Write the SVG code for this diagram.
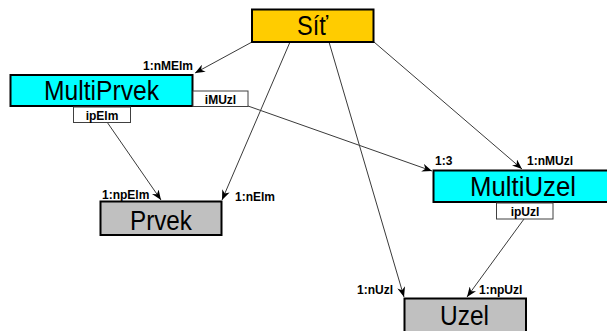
<svg xmlns="http://www.w3.org/2000/svg" width="607" height="331" viewBox="0 0 607 331">
  <style>
    .box { stroke: #000; stroke-width: 2; }
    .tag { fill: #fff; stroke: #404040; stroke-width: 1; }
    .title { font-family: "Liberation Sans", Arial, sans-serif; font-size: 27px; fill: #000; }
    .small { font-family: "Liberation Sans", Arial, sans-serif; font-size: 12px; font-weight: bold; fill: #000; }
    .mid { text-anchor: middle; }
    .end { text-anchor: end; }
    .link { stroke: #3a3a3a; stroke-width: 1; fill: none; marker-end: url(#arrow); }
  </style>
  <defs>
    <marker id="arrow" viewBox="0 0 10 8" refX="10" refY="4" markerWidth="10" markerHeight="8" markerUnits="userSpaceOnUse" orient="auto">
      <path d="M0,0 L10,4 L0,8 L3,4 z" fill="#000"/>
    </marker>
  </defs>
  <rect width="607" height="331" fill="#fff"/>

  <g id="connectors">
    <line class="link" x1="252" y1="42" x2="195" y2="73"/>
    <line class="link" x1="290" y1="42" x2="222" y2="200"/>
    <line class="link" x1="329" y1="42" x2="404" y2="297"/>
    <line class="link" x1="374" y1="42" x2="522" y2="169"/>
    <line class="link" x1="248" y1="106" x2="432" y2="171"/>
    <line class="link" x1="107" y1="122" x2="161" y2="200"/>
    <line class="link" x1="524" y1="219" x2="467" y2="297"/>
  </g>

  <g id="sit">
    <rect class="box" x="252" y="9.5" width="121.5" height="32.5" fill="#FFCC00"/>
    <text class="title" x="297" y="35" textLength="31" lengthAdjust="spacingAndGlyphs">Síť</text>
  </g>

  <g id="multiprvek">
    <rect class="box" x="10.5" y="75" width="182" height="31" fill="#00FFFF"/>
    <text class="title" x="44" y="100" textLength="115" lengthAdjust="spacingAndGlyphs">MultiPrvek</text>
    <text class="small end" x="193" y="70">1:nMElm</text>
    <rect class="tag" x="193" y="91" width="55" height="15.5"/>
    <text class="small mid" x="220.5" y="103.5">iMUzl</text>
    <rect class="tag" x="73.5" y="107" width="57" height="15.5"/>
    <text class="small mid" x="102" y="119.5">ipElm</text>
  </g>

  <g id="prvek">
    <rect class="box" x="100.5" y="201.5" width="121" height="33.5" fill="#C0C0C0"/>
    <text class="title" x="130" y="230" textLength="62" lengthAdjust="spacingAndGlyphs">Prvek</text>
    <text class="small" x="102" y="199">1:npElm</text>
    <text class="small" x="235" y="201">1:nElm</text>
  </g>

  <g id="multiuzel">
    <rect class="box" x="433.5" y="170.5" width="180" height="31.5" fill="#00FFFF"/>
    <text class="title" x="470" y="195.5" textLength="106" lengthAdjust="spacingAndGlyphs">MultiUzel</text>
    <text class="small" x="435" y="165">1:3</text>
    <text class="small" x="527" y="165">1:nMUzl</text>
    <rect class="tag" x="496.5" y="203" width="56.5" height="16"/>
    <text class="small mid" x="525" y="215.5">ipUzl</text>
  </g>

  <g id="uzel">
    <rect class="box" x="404.5" y="298.5" width="121.5" height="40" fill="#C0C0C0"/>
    <text class="title" x="440" y="325" textLength="49" lengthAdjust="spacingAndGlyphs">Uzel</text>
    <text class="small" x="357" y="294">1:nUzl</text>
    <text class="small" x="479" y="294">1:npUzl</text>
  </g>
</svg>
